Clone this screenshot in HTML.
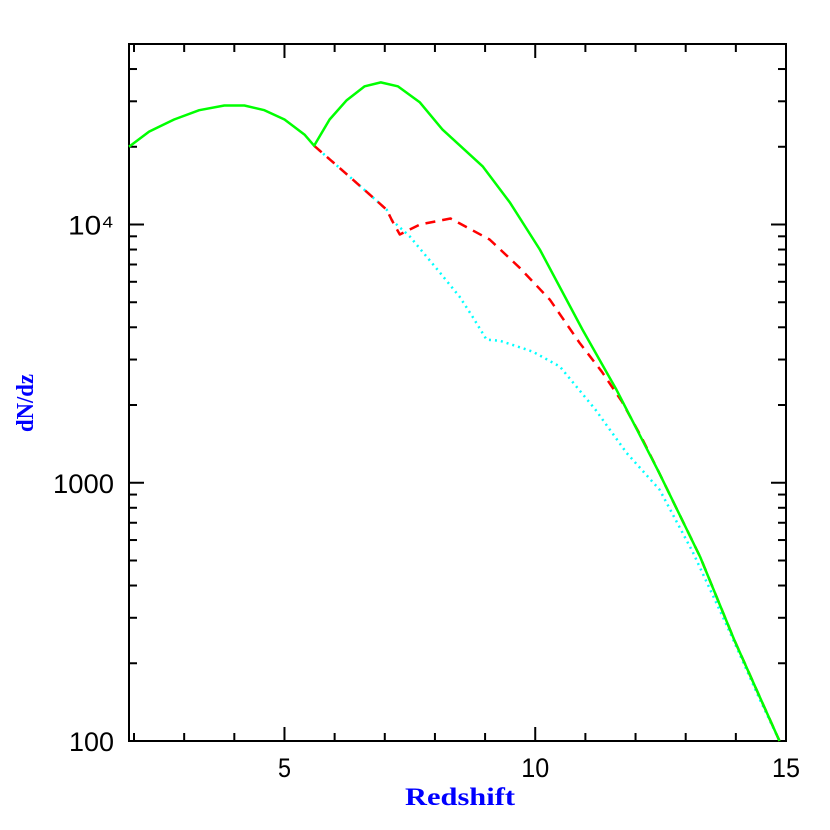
<!DOCTYPE html>
<html><head><meta charset="utf-8"><style>
html,body{margin:0;padding:0;background:#fff;width:830px;height:830px;overflow:hidden}
text{font-family:"Liberation Sans",sans-serif}
</style></head><body>
<svg id="chart" width="830" height="830" xmlns="http://www.w3.org/2000/svg">
<g id="axes"></g>
<g id="series"></g>
<text x="405" y="805" textLength="110" lengthAdjust="spacingAndGlyphs" fill="#0000ff" font-size="25" font-weight="bold" style="font-family:'Liberation Serif',serif">Redshift</text>
<text transform="translate(33,432) rotate(-90)" textLength="58" lengthAdjust="spacingAndGlyphs" fill="#0000ff" font-size="24" font-weight="bold" style="font-family:'Liberation Serif',serif">dN/dz</text>
</svg>
<script>
const greenZ=[1.9,2.3,2.8,3.3,3.8,4.2,4.6,5.0,5.4,5.59,5.9,6.24,6.6,6.92,7.26,7.7,8.15,8.95,9.49,10.09,10.94,11.62,12.47,13.29,13.97,14.87];
const greenV=[20000,22900,25500,27700,28900,28900,27700,25500,22300,20200,25500,30300,34300,35500,34300,29700,23300,16800,12200,8000,3920,2290,1094,516,246,100];
const redZ=[5.59,6.3,7.04,7.14,7.3,7.7,8.31,9.09,9.69,10.29,10.88,11.33,11.73,12.11,12.47,13.29,13.97,14.87];
const redV=[20200,15300,11400,10400,9150,10000,10550,8750,6800,5120,3490,2690,2060,1510,1094,516,246,100];
const cyanZ=[5.59,6.3,7.04,7.14,7.5,8.1,8.49,8.75,9.03,9.29,9.95,10.49,11.2,11.82,12.48,13.14,13.82,14.47,14.87];
const cyanV=[20200,15300,11400,10400,8980,6510,5260,4400,3580,3550,3220,2820,1920,1306,940,540,280,146,100];
const xTicks=[5,10,15];
const xTickLabels=["5","10","15"];
const yTicks=[100,1000,10000];
const yTickLabels=["100","1000","10⁴"];

const L=129,R=786,T=44,B=741,XMIN=1.9,XMAX=15,YMIN=2,YMAX=Math.log10(50000);
const sx=z=>L+(z-XMIN)/(XMAX-XMIN)*(R-L);
const sy=v=>B-(Math.log10(v)-YMIN)/(YMAX-YMIN)*(B-T);
const NS="http://www.w3.org/2000/svg";
const axes=document.getElementById('axes'),series=document.getElementById('series');
function mk(tag,attrs,parent){const e=document.createElementNS(NS,tag);for(const k in attrs)e.setAttribute(k,attrs[k]);parent.appendChild(e);return e;}
let frame=mk('rect',{x:L,y:T,width:R-L,height:B-T,fill:'none',stroke:'#000','stroke-width':2},axes);


for(let z=2;z<=15;z++){
  const major=z%5===0,len=major?14:8,x=sx(z);
  let t=mk('line',{x1:x,x2:x,y1:B,y2:B-len,stroke:'#000','stroke-width':2},axes);
  
  
  let t2=mk('line',{x1:x,x2:x,y1:T,y2:T+len,stroke:'#000','stroke-width':2},axes);
  
  
}
const xLen={"5":13,"10":28,"15":28};
xTicks.forEach((z,i)=>{
  let t=mk('text',{x:sx(z),y:777,'text-anchor':'middle','font-size':27,textLength:xLen[xTickLabels[i]]||28,lengthAdjust:'spacingAndGlyphs'},axes);
  t.textContent=xTickLabels[i];
  
  
});
for(let d=2;d<=4;d++){for(let m=1;m<=9;m++){
  const v=m*Math.pow(10,d);if(v>50000)continue;
  const len=m===1?15:8,y=sy(v);
  let t=mk('line',{x1:L,x2:L+len,y1:y,y2:y,stroke:'#000','stroke-width':2},axes);
  
  
  let t2=mk('line',{x1:R,x2:R-len,y1:y,y2:y,stroke:'#000','stroke-width':2},axes);
  
  
}}
const yLen={"100":45,"1000":61,"10⁴":46};
yTicks.forEach((v,i)=>{
  let t=mk('text',{x:114,y:sy(v)+10,'text-anchor':'end','font-size':27,textLength:yLen[yTickLabels[i]],lengthAdjust:'spacingAndGlyphs'},axes);
  t.textContent=yTickLabels[i];
  
  
});
function line(zs,vs,color,dash,name){
  const d=zs.map((z,i)=>(i?'L':'M')+sx(z).toFixed(1)+','+sy(vs[i]).toFixed(1)).join(' ');
  const p=mk('path',{d:d,fill:'none',stroke:color,'stroke-width':2.5,'stroke-linejoin':'round'},series);
  if(dash)p.setAttribute('stroke-dasharray',dash);
  
  
}
line(cyanZ,cyanV,'#00ffff','2 4','cyan-dotted-series');
line(redZ,redV,'#ff0000','10 7','red-dashed-series');
line(greenZ,greenV,'#00ff00',null,'green-solid-series');
</script>
</body></html>
